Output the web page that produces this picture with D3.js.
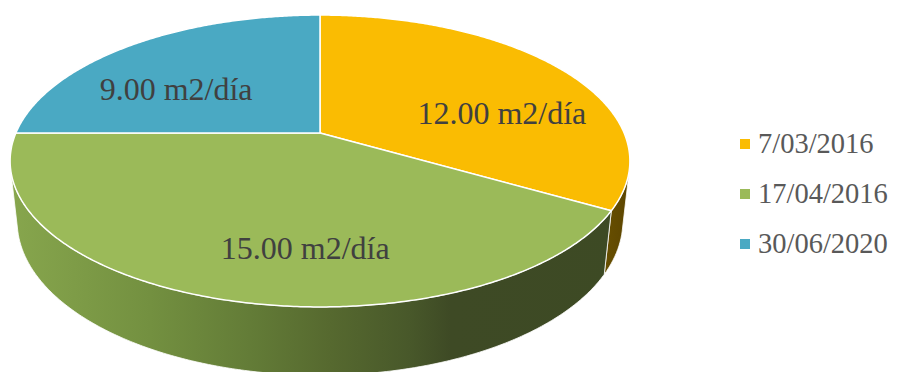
<!DOCTYPE html>
<html>
<head>
<meta charset="utf-8">
<script src="https://cdn.jsdelivr.net/npm/d3@7/dist/d3.min.js"></script>
<style>
  html, body { margin: 0; padding: 0; background: #ffffff; }
  svg { display: block; }
</style>
</head>
<body>
<svg id="chart" width="908" height="372"></svg>
<script>
// Series data
const categories = ["7/03/2016", "17/04/2016", "30/06/2020"];
const values = [12.00, 15.00, 9.00];
const unit = "m2/día";

// Colours
const topColors = ["#FABC02", "#9BBA59", "#4AA9C3"];
const wallStops = [
  // yellow slice wall
  [[0, "#6e5400"], [1, "#5c4500"]],
  // green slice wall
  [[0, "#87a64d"], [0.226, "#739040"], [0.387, "#637c37"], [0.516, "#56692f"],
   [0.645, "#48582a"], [0.71, "#3e4a25"], [1, "#3d4a24"]],
  // blue slice wall (hidden behind)
  [[0, "#2e7f94"], [1, "#2a6f82"]]
];
// small label nudges (px) applied after placing each label on its slice
const labelShift = [[2, 1], [39, -7], [3, -3]];

// 3D view of the pie: a flat cylinder seen from above in perspective
const view = {
  ox: 320, oy: 133,       // projected pie centre
  F: 1406,                // focal scale
  D: 4.623,               // camera distance (in pie radii)
  sinP: 0.4622, cosP: 0.8868, // camera pitch
  depth: 0.225            // slab thickness (in pie radii)
};

function project(theta, r, w) {
  const u = r * Math.sin(theta);
  const v = -r * Math.cos(theta);
  const yw = -w * view.depth;
  const dist = view.D - (yw * view.sinP + v * view.cosP);
  return [
    view.ox + view.F * u / dist,
    view.oy - view.F * (yw * view.cosP - v * view.sinP) / dist
  ];
}

// angles at which the cylinder wall turns away from the camera
const camZ = view.D * view.cosP;
const silA = Math.acos(-1 / camZ);
const silB = 2 * Math.PI - silA;

const svg = d3.select("#chart");
const defs = svg.append("defs");

const pie = d3.pie().sort(null).value(d => d)
  .startAngle(0).endAngle(2 * Math.PI);
const arcs = pie(values);

const line = d3.line();

function arcPoints(a0, a1, w) {
  const n = Math.max(2, Math.ceil((a1 - a0) / (Math.PI / 360)));
  return d3.range(n + 1).map(i => project(a0 + (a1 - a0) * i / n, 1, w));
}

// wall gradients
wallStops.forEach((stops, i) => {
  const g = defs.append("linearGradient")
    .attr("id", "wall" + i)
    .attr("gradientUnits", "userSpaceOnUse")
    .attr("x1", 10).attr("y1", 0).attr("x2", 630).attr("y2", 0);
  if (i === 0) g.attr("x1", 590).attr("x2", 630);
  stops.forEach(s => g.append("stop").attr("offset", s[0]).attr("stop-color", s[1]));
});

// outer walls (front half only)
const walls = svg.append("g");
arcs.forEach((a, i) => {
  const lo = Math.max(a.startAngle, silA);
  const hi = Math.min(a.endAngle, silB);
  if (lo >= hi) return;
  const topPts = arcPoints(lo, hi, 0);
  const botPts = arcPoints(lo, hi, 1).reverse();
  walls.append("path")
    .attr("d", line(topPts.concat(botPts)) + "Z")
    .attr("fill", `url(#wall${i})`)
    .attr("stroke", "#ffffff")
    .attr("stroke-width", 0.8)
    .attr("stroke-linejoin", "round");
});

// top faces
const tops = svg.append("g");
arcs.forEach((a, i) => {
  const pts = [project(0, 0, 0)].concat(arcPoints(a.startAngle, a.endAngle, 0));
  tops.append("path")
    .attr("d", line(pts) + "Z")
    .attr("fill", topColors[i])
    .attr("stroke", "#ffffff")
    .attr("stroke-width", 1.5)
    .attr("stroke-linejoin", "round");
});

// data labels, placed along each slice's mid-angle on the top ellipse
const ell = { cx: 320, cy: 161, rx: 310, ry: 146, r: 0.67 };
const labels = svg.append("g")
  .attr("font-family", "'Liberation Serif', 'Times New Roman', serif")
  .attr("font-size", 32)
  .attr("fill", "#404040")
  .attr("text-anchor", "middle");
arcs.forEach((a, i) => {
  const m = (a.startAngle + a.endAngle) / 2;
  const x = ell.cx + ell.rx * ell.r * Math.sin(m) + labelShift[i][0];
  const y = ell.cy - ell.ry * ell.r * Math.cos(m) + labelShift[i][1];
  labels.append("text")
    .attr("x", x).attr("y", y).attr("dy", "0.34em")
    .text(d3.format(".2f")(a.data) + " " + unit);
});

// legend
const legendY = d3.scalePoint().domain(categories).range([153, 253]);
const legend = svg.append("g")
  .attr("font-family", "'Liberation Serif', 'Times New Roman', serif")
  .attr("font-size", 28.5)
  .attr("fill", "#595959");
categories.forEach((c, i) => {
  const y = legendY(c);
  legend.append("rect")
    .attr("x", 740).attr("y", y - 14).attr("width", 10).attr("height", 10)
    .attr("fill", topColors[i]);
  legend.append("text").attr("x", 758).attr("y", y).text(c);
});
</script>
</body>
</html>
